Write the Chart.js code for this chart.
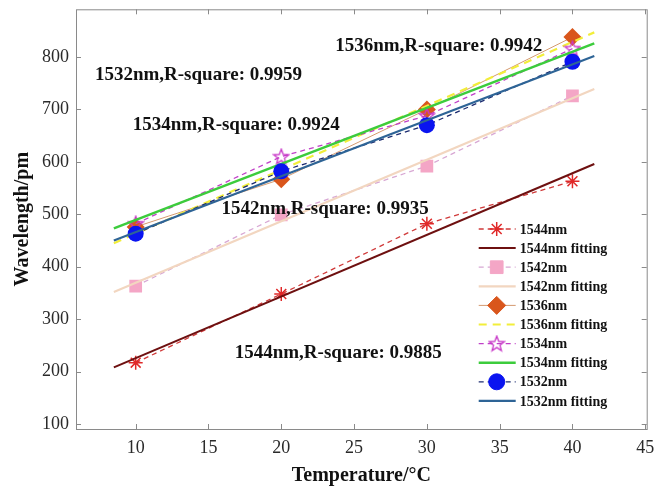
<!DOCTYPE html>
<html>
<head>
<meta charset="utf-8">
<script src="https://cdn.jsdelivr.net/npm/chart.js@4.4.0/dist/chart.umd.min.js"></script>
<style>
  html, body { margin: 0; padding: 0; background: #fff; }
  #wrap { width: 656px; height: 490px; }
</style>
</head>
<body>
<div id="wrap"><canvas id="myCanvas" width="656" height="490"></canvas></div>
<script>
// measured points (temperature in C, wavelength shift in pm)
var temps = [10, 20, 30, 40];
var nm1544 = [217, 348, 482, 563];
var nm1542 = [363, 499, 592, 726];
var nm1536 = [476, 567, 700, 838];
var nm1534 = [482, 610, 688, 816];
var nm1532 = [463, 582, 670, 791];

// fitted lines, read at both ends
var fitX = [8.5, 41.5];
var fit1544 = [208, 596];
var fit1542 = [352, 739];
var fit1536 = [445, 847];
var fit1534 = [473, 826];
var fit1532 = [450, 802];

var xTicks = [10, 15, 20, 25, 30, 35, 40, 45];
var yTicks = [100, 200, 300, 400, 500, 600, 700, 800];

var fitNotes = [
  "1532nm,R-square: 0.9959",
  "1534nm,R-square: 0.9924",
  "1536nm,R-square: 0.9942",
  "1542nm,R-square: 0.9935",
  "1544nm,R-square: 0.9885"
];

function pts(xs, ys) {
  var out = [];
  for (var i in xs) out.push({ x: xs[i], y: ys[i] });
  return out;
}

// hollow five point star for 1534nm
function pentagram(color) {
  var c = document.createElement("canvas");
  c.width = 18; c.height = 18;
  var g = c.getContext("2d");
  g.strokeStyle = color;
  g.lineWidth = 1.3;
  g.beginPath();
  for (var k = 0; k < 10; k++) {
    var r = k % 2 === 0 ? 8 : 3.4;
    var a = -Math.PI / 2 + k * Math.PI / 5;
    var px = 9 + r * Math.cos(a), py = 9.5 + r * Math.sin(a);
    if (k === 0) g.moveTo(px, py); else g.lineTo(px, py);
  }
  g.closePath();
  g.stroke();
  return c;
}

var serif = "'Liberation Serif', 'Times New Roman', serif";

var datasets = [
  { label: "1544nm", data: pts(temps, nm1544), borderColor: "#d03a3a", borderWidth: 1.3, borderDash: [5, 4],
    pointStyle: "star", pointRadius: 7, pointBorderColor: "#e02828", pointBackgroundColor: "#e02828", pointBorderWidth: 1.5 },
  { label: "1544nm fitting", data: pts(fitX, fit1544), borderColor: "#6e1010", borderWidth: 2, pointRadius: 0 },
  { label: "1542nm", data: pts(temps, nm1542), borderColor: "#d8a8d4", borderWidth: 1.3, borderDash: [5, 4],
    pointStyle: "rect", pointRadius: 9, pointBorderColor: "#f4a6c6", pointBackgroundColor: "#f4a6c6", pointBorderWidth: 0 },
  { label: "1542nm fitting", data: pts(fitX, fit1542), borderColor: "#f2d6c0", borderWidth: 2.2, pointRadius: 0 },
  { label: "1536nm", data: pts(temps, nm1536), borderColor: "#d49a70", borderWidth: 1,
    pointStyle: "rectRot", pointRadius: 9, pointBorderColor: "#d9561c", pointBackgroundColor: "#d9561c", pointBorderWidth: 0 },
  { label: "1536nm fitting", data: pts(fitX, fit1536), borderColor: "#f2ee3a", borderWidth: 2.2, borderDash: [8, 6], pointRadius: 0 },
  { label: "1534nm", data: pts(temps, nm1534), borderColor: "#c040c8", borderWidth: 1.3, borderDash: [5, 4],
    pointStyle: pentagram("#c838c8"), pointRadius: 8 },
  { label: "1534nm fitting", data: pts(fitX, fit1534), borderColor: "#3ccc3c", borderWidth: 2.5, pointRadius: 0 },
  { label: "1532nm", data: pts(temps, nm1532), borderColor: "#1c2c70", borderWidth: 1.3, borderDash: [5, 4],
    pointStyle: "circle", pointRadius: 8, pointBorderColor: "#0a14f0", pointBackgroundColor: "#0a14f0", pointBorderWidth: 0 },
  { label: "1532nm fitting", data: pts(fitX, fit1532), borderColor: "#2e6496", borderWidth: 2.2, pointRadius: 0 }
];
for (var i in datasets) {
  datasets[i].order = datasets.length - i;
  datasets[i].fill = false;
  datasets[i].tension = 0;
}

// box with inward ticks, like the matlab axes
var boxPlugin = {
  id: "box",
  afterDraw: function (chart) {
    var ctx = chart.ctx, a = chart.chartArea;
    var xs = chart.scales.x, ys = chart.scales.y;
    ctx.save();
    ctx.strokeStyle = "#8a8a8a";
    ctx.lineWidth = 1;
    ctx.strokeRect(a.left + 0.5, a.top + 0.5, a.right - a.left, a.bottom - a.top);
    ctx.beginPath();
    xTicks.forEach(function (v) {
      var px = Math.round(xs.getPixelForValue(v)) + 0.5;
      ctx.moveTo(px, a.bottom); ctx.lineTo(px, a.bottom - 5);
      ctx.moveTo(px, a.top); ctx.lineTo(px, a.top + 5);
    });
    yTicks.forEach(function (v) {
      var py = Math.round(ys.getPixelForValue(v)) + 0.5;
      ctx.moveTo(a.left, py); ctx.lineTo(a.left + 5, py);
      ctx.moveTo(a.right, py); ctx.lineTo(a.right - 5, py);
    });
    ctx.stroke();
    ctx.restore();
  }
};

// R-square notes placed in data units
var notePlugin = {
  id: "notes",
  afterDatasetsDraw: function (chart, args, opts) {
    var ctx = chart.ctx;
    ctx.save();
    ctx.font = "bold 19px " + serif;
    ctx.fillStyle = "#111";
    ctx.textBaseline = "middle";
    opts.at.forEach(function (p, k) {
      ctx.fillText(fitNotes[k], chart.scales.x.getPixelForValue(p[0]), chart.scales.y.getPixelForValue(p[1]));
    });
    ctx.restore();
  }
};

// legend drawn inside the axes, lower right
var legendPlugin = {
  id: "inLegend",
  afterDraw: function (chart, args, opts) {
    var ctx = chart.ctx, a = chart.chartArea;
    var x0 = a.right - opts.offsetRight, y0 = opts.top;
    ctx.save();
    datasets.forEach(function (ds, k) {
      var y = y0 + k * opts.step;
      ctx.strokeStyle = ds.borderColor;
      ctx.lineWidth = ds.borderWidth;
      ctx.setLineDash(ds.borderDash || []);
      ctx.beginPath();
      ctx.moveTo(x0, y); ctx.lineTo(x0 + 37, y);
      ctx.stroke();
      ctx.setLineDash([]);
      if (ds.pointRadius > 0) {
        ctx.fillStyle = ds.pointBackgroundColor || ds.borderColor;
        ctx.strokeStyle = ds.pointBorderColor || ds.borderColor;
        ctx.lineWidth = ds.pointBorderWidth || 1;
        Chart.helpers.drawPoint(ctx, { pointStyle: ds.pointStyle, radius: ds.pointRadius, borderWidth: ds.pointBorderWidth || 1, rotation: 0 }, x0 + 18, y);
      }
      ctx.fillStyle = "#111";
      ctx.font = "bold 14px " + serif;
      ctx.textBaseline = "middle";
      ctx.fillText(ds.label, x0 + 41, y + 1);
    });
    ctx.restore();
  }
};

var ctx = document.getElementById("myCanvas");
var chart = new Chart(ctx, {
  type: "line",
  data: { datasets: datasets },
  plugins: [boxPlugin, notePlugin, legendPlugin],
  options: {
    responsive: false,
    animation: false,
    devicePixelRatio: 1,
    layout: { padding: { top: 3, right: 5, left: 0, bottom: 0 } },
    plugins: {
      legend: { display: false },
      tooltip: { enabled: false },
      notes: { at: [[7.2, 766], [9.8, 671], [23.7, 821], [15.9, 509], [16.8, 236]] },
      inLegend: { offsetRight: 168, top: 229, step: 19.1 }
    },
    scales: {
      x: {
        type: "linear", min: 5.9, max: 45.1,
        grid: { display: false, drawTicks: false },
        border: { display: false },
        ticks: { font: { family: serif, size: 18 }, color: "#2a2a2a", padding: 8, maxRotation: 0 },
        afterBuildTicks: function (s) { s.ticks = xTicks.map(function (v) { return { value: v }; }); },
        afterFit: function (s) { s.height = 61; s.paddingLeft = 0; s.paddingRight = 0; },
        title: { display: true, text: "Temperature/°C", font: { family: serif, size: 20, weight: "bold" }, color: "#111", padding: { top: 0, bottom: 2 } }
      },
      y: {
        type: "linear", min: 90.5, max: 891,
        grid: { display: false, drawTicks: false },
        border: { display: false },
        ticks: { font: { family: serif, size: 18 }, color: "#2a2a2a", padding: 7 },
        afterBuildTicks: function (s) { s.ticks = yTicks.map(function (v) { return { value: v }; }); },
        afterFit: function (s) { s.width = 76; s.paddingTop = 0; s.paddingBottom = 0; },
        title: { display: true, text: "Wavelength/pm", font: { family: serif, size: 20, weight: "bold" }, color: "#111", padding: { top: 11, bottom: 0 } }
      }
    }
  }
});
</script>
</body>
</html>
